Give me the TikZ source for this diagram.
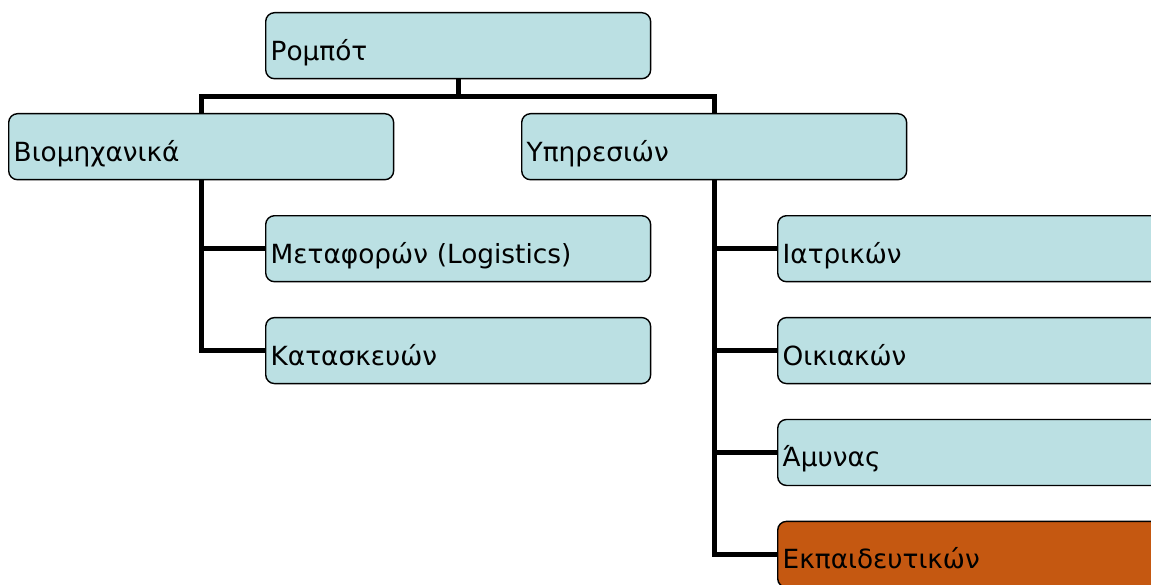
\documentclass[tikz,border=0pt]{standalone}
\usepackage{fontspec}
\setmainfont{DejaVu Sans}
\usetikzlibrary{positioning, backgrounds}
\definecolor{cellblue}{RGB}{187,224,227}
\definecolor{cellorange}{RGB}{197,88,17}

\begin{document}
\begin{tikzpicture}[
  x=0.02cm, y=-0.02cm,
  font=\fontsize{15}{18}\selectfont,
  cat/.style={draw, line width=0.8pt, rounded corners=5pt, fill=cellblue,
              text width=7.5cm, inner xsep=0.1cm, minimum height=1.32cm,
              text height=0.58cm, text depth=0cm, align=left},
  link/.style={line width=3pt},
]
\useasboundingbox (0,0) rectangle (1151,584);
\clip (0,0) rectangle (1151,584);

% top level
\node[cat, anchor=north west] (root) at (265,12) {Ρομπότ};

% two branches
\node[cat, anchor=north west] (bio) at (8,113) {Βιομηχανικά};
\node[cat, anchor=north west] (serv) at (521,113) {Υπηρεσιών};

% industrial robots
\node[cat, anchor=north west] (meta) at (265,215) {Μεταφορών (Logistics)};
\node[cat, below=0.69cm of meta] (kata) {Κατασκευών};

% service robots
\node[cat, anchor=north west] (iatr) at (777,215) {Ιατρικών};
\node[cat, below=0.69cm of iatr] (oik) {Οικιακών};
\node[cat, below=0.69cm of oik] (amyn) {Άμυνας};
\node[cat, fill=cellorange, below=0.69cm of amyn] (ekp) {Εκπαιδευτικών};

% connectors
\begin{scope}[on background layer]
  \draw[link] (root.south) -- ++(0,17) coordinate (split) -| (bio.north);
  \draw[link] (split) -| (serv.north);
  \draw[link] (bio.south) |- (meta.west);
  \draw[link] (bio.south) |- (kata.west);
  \draw[link] (serv.south) |- (iatr.west);
  \draw[link] (serv.south) |- (oik.west);
  \draw[link] (serv.south) |- (amyn.west);
  \draw[link] (serv.south) |- (ekp.west);
\end{scope}

\end{tikzpicture}
\end{document}
